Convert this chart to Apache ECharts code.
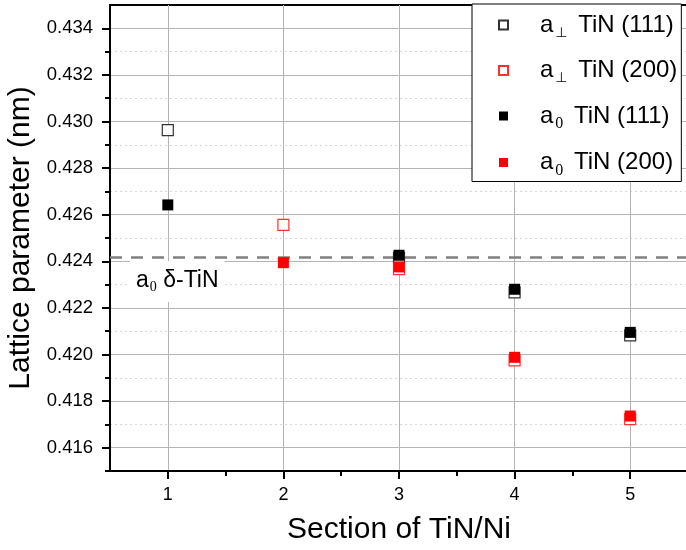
<!DOCTYPE html>
<html>
<head>
<meta charset="utf-8">
<script src="https://cdn.jsdelivr.net/npm/echarts@6/dist/echarts.min.js"></script>
<style>
  html, body { margin: 0; padding: 0; background: #fff; }
  #main { width: 686px; height: 550px; }
</style>
</head>
<body>
<div id="main"></div>
<script>
// sections along TiN/Ni
const sections = [1, 2, 3, 4, 5];
// lattice parameters (nm), null = no measurement
const perp111 = [0.42963, null, 0.42415, 0.42267, 0.42082];
const perp200 = [null, 0.42556, 0.42366, 0.41975, 0.41723];
const a0_111 = [0.42642, null, 0.42426, 0.42280, 0.42095];
const a0_200 = [null, 0.42394, 0.42376, 0.41988, 0.41736];
const refTiN = 0.42418; // a0 delta-TiN
const yMajor = [0.416, 0.418, 0.420, 0.422, 0.424, 0.426, 0.428, 0.430, 0.432, 0.434];
const yMinor = [0.415, 0.417, 0.419, 0.421, 0.423, 0.425, 0.427, 0.429, 0.431, 0.433];
const xMinor = [1.5, 2.5, 3.5, 4.5];

const font = 'Liberation Sans, Arial, sans-serif';

function pairs(vals) {
  return sections.map((s, i) => [s, vals[i]]).filter(p => p[1] != null);
}

const legendNames = {
  p111: '{a|a}{s|⊥}{t| TiN (111)}',
  p200: '{a|a}{s|⊥}{t| TiN (200)}',
  z111: '{a|a}{z|0}{t| TiN (111)}',
  z200: '{a|a}{z|0}{t| TiN (200)}'
};

const chart = echarts.init(document.getElementById('main'));

const option = {
  animation: false,
  grid: {
    left: 110, right: -2, top: 5, bottom: 79,
    outerBoundsMode: 'none', containLabel: false,
    show: true, borderColor: '#000', borderWidth: 2
  },
  legend: {
    orient: 'vertical',
    left: 472,
    top: 4,
    width: 212,
    backgroundColor: '#fff',
    borderColor: '#000',
    borderWidth: 1,
    borderRadius: 0,
    padding: [9, 4, 3, 26],
    itemWidth: 9,
    itemHeight: 9,
    itemGap: 18.5,
    icon: 'rect',
    data: ['p111', 'p200', 'z111', 'z200'],
    formatter: name => legendNames[name],
    textStyle: {
      padding: [0, 0, 0, 27],
      rich: {
        a: { fontSize: 24, fontFamily: font, color: '#000', lineHeight: 30 },
        s: { fontSize: 14, fontFamily: 'DejaVu Sans', color: '#000', padding: [16, 4, 0, 2] },
        z: { fontSize: 16, fontFamily: 'Liberation Serif', color: '#000', padding: [16, 4, 0, 2] },
        t: { fontSize: 24, fontFamily: font, color: '#000', lineHeight: 30 }
      }
    }
  },
  xAxis: [{
    type: 'value',
    min: 0.5,
    max: 5.5,
    name: 'Section of TiN/Ni',
    nameLocation: 'middle',
    nameGap: 44,
    nameTextStyle: { fontSize: 30, fontFamily: font, color: '#000' },
    axisLine: { show: true, lineStyle: { color: '#000', width: 2 } },
    axisTick: { show: true, customValues: sections, length: 8, lineStyle: { color: '#000', width: 2 } },
    axisLabel: { customValues: sections, fontSize: 18, fontFamily: font, color: '#000', margin: 15 },
    splitLine: { show: true, lineStyle: { color: '#b4b4b4', width: 1 } }
  }, {
    type: 'value',
    min: 0.5,
    max: 5.5,
    position: 'bottom',
    axisLine: { show: false },
    axisTick: { show: true, customValues: xMinor, length: 5, lineStyle: { color: '#000', width: 2 } },
    axisLabel: { show: false },
    splitLine: { show: false }
  }],
  yAxis: [{
    type: 'value',
    min: 0.415,
    max: 0.435,
    name: 'Lattice parameter (nm)',
    nameLocation: 'middle',
    nameGap: 64,
    nameTextStyle: { fontSize: 30, fontFamily: font, color: '#000' },
    axisLine: { show: true, lineStyle: { color: '#000', width: 2 } },
    axisTick: { show: true, customValues: yMajor, length: 8, lineStyle: { color: '#000', width: 2 } },
    axisLabel: {
      customValues: yMajor, fontSize: 18.5, fontFamily: font, color: '#000', margin: 17,
      formatter: v => v.toFixed(3)
    },
    splitLine: { show: true, lineStyle: { color: '#b4b4b4', width: 1 } }
  }, {
    type: 'value',
    min: 0.415,
    max: 0.435,
    position: 'left',
    axisLine: { show: false },
    axisTick: { show: true, customValues: yMinor, length: 5, lineStyle: { color: '#000', width: 2 } },
    axisLabel: { show: false },
    splitLine: { show: true, lineStyle: { color: '#d8d8d8', width: 1, type: [2, 3] } }
  }],
  series: [
    {
      name: 'p111', type: 'scatter', symbol: 'rect', symbolSize: 11, z: 3,
      data: pairs(perp111),
      itemStyle: { color: '#fff', borderColor: '#333', borderWidth: 1.2, opacity: 1 },
      markLine: {
        silent: true, symbol: 'none', z: 2, precision: 6,
        lineStyle: { color: '#808080', width: 2.5, type: [12, 9] },
        label: {
          show: true,
          position: 'insideStartBottom',
          distance: [20, 4],
          backgroundColor: '#fff',
          padding: [7, 6, 8, 6],
          formatter: '{a|a}{z|0}{t| δ-TiN}',
          rich: {
            a: { fontSize: 23, fontFamily: font, color: '#000' },
            z: { fontSize: 14, fontFamily: 'Liberation Serif', color: '#000', padding: [12, 0, 0, 1] },
            t: { fontSize: 23, fontFamily: font, color: '#000' }
          }
        },
        data: [{ yAxis: refTiN }]
      }
    },
    {
      name: 'p200', type: 'scatter', symbol: 'rect', symbolSize: 11, z: 3,
      data: pairs(perp200),
      itemStyle: { color: '#fff', borderColor: '#ff3030', borderWidth: 1.2, opacity: 1 }
    },
    {
      name: 'z111', type: 'scatter', symbol: 'rect', symbolSize: 11, z: 4,
      data: pairs(a0_111),
      itemStyle: { color: '#000', opacity: 1 }
    },
    {
      name: 'z200', type: 'scatter', symbol: 'rect', symbolSize: 11, z: 4,
      data: pairs(a0_200),
      itemStyle: { color: '#ff0000', opacity: 1 }
    }
  ]
};

chart.setOption(option);
window.addEventListener('resize', chart.resize);
</script>
</body>
</html>
